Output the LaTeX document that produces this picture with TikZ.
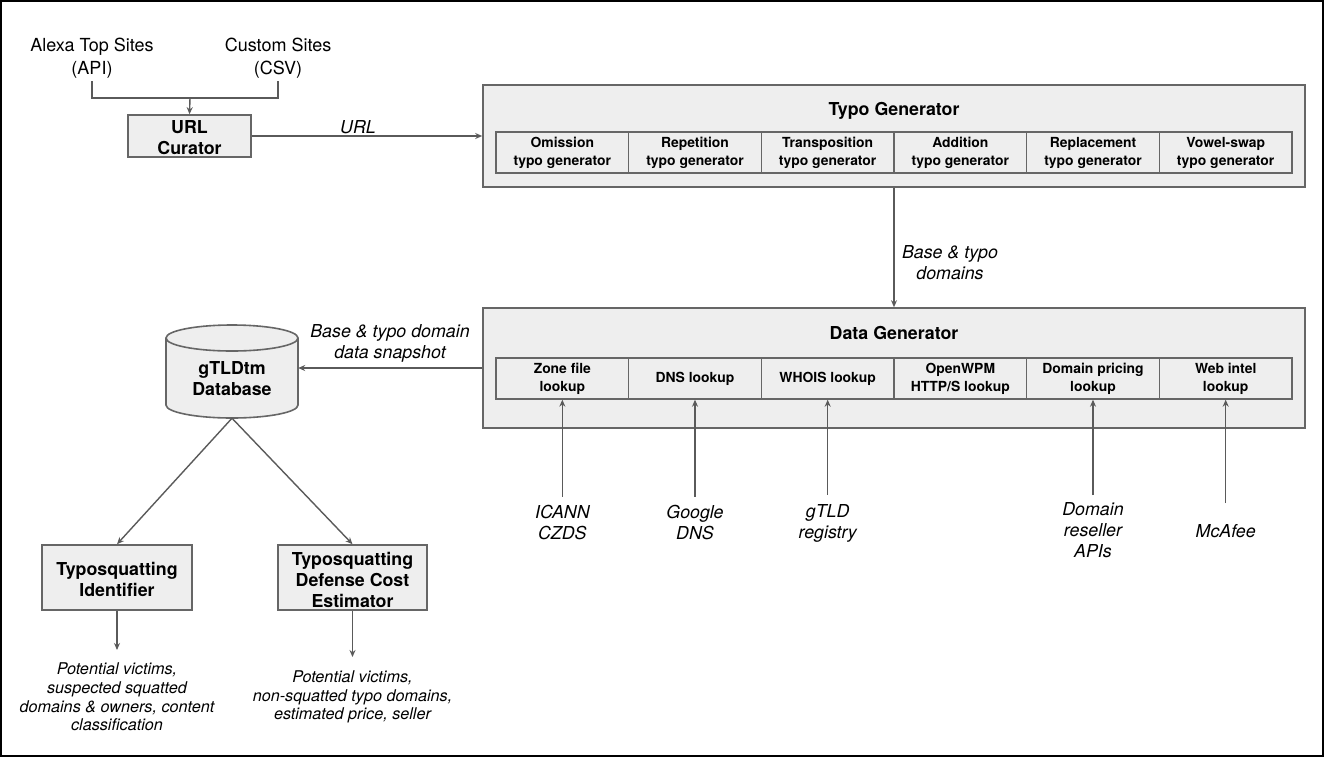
\documentclass[tikz,border=0pt]{standalone}
\usepackage{fontspec}
\setmainfont{TeX Gyre Heros}
\usetikzlibrary{arrows.meta}
\definecolor{boxfill}{HTML}{EEEEEE}
\definecolor{boxline}{HTML}{666666}
\definecolor{arrline}{HTML}{5A5A5A}
\begin{document}
\begin{tikzpicture}[x=1pt,y=-1pt,
  box/.style={draw=boxline, fill=boxfill, line width=1.6pt, inner sep=0pt, align=center,
              font=\fontsize{17.8}{21}\selectfont\bfseries},
  title/.style={inner sep=0pt, align=center, font=\fontsize{17.8}{21}\selectfont\bfseries},
  cell/.style={draw=boxline, fill=boxfill, line width=1.4pt, minimum width=132.67pt,
               minimum height=41pt, inner sep=0pt, align=center,
               font=\fontsize{13.9}{18}\selectfont\bfseries},
  src/.style={inner sep=3pt, align=center, font=\fontsize{18}{23}\selectfont},
  lbl/.style={inner sep=0pt, align=center, font=\fontsize{17.8}{21}\selectfont\itshape},
  inp/.style={inner sep=0pt, align=center, font=\fontsize{17.8}{21}\selectfont\itshape},
  outp/.style={inner sep=0pt, align=center, font=\fontsize{16.2}{18.6}\selectfont\itshape},
  arr/.style={draw=arrline, line width=1.4pt, -{Stealth[length=7pt,width=6pt]}},
  ln/.style={draw=arrline, line width=1.4pt},
]
\useasboundingbox (0,0) rectangle (1329,758);
\draw[black, line width=2pt] (1,1) rectangle (1323,756);

% sources
\node[src] (alexa) at (92,58) {Alexa Top Sites\\(API)};
\node[src] (custom) at (278,58) {Custom Sites\\(CSV)};
\coordinate (j) at (190,98);

% URL curator
\node[box, minimum width=123pt, minimum height=42pt] (url) at (189.5,136) {};
\node[title] (urlt) at (189.5,137.5) {URL\\Curator};
\draw[ln] (alexa.south) -- (alexa.south |- j) -- (custom.south |- j) -- (custom.south);
\draw[arr] (j) -- (url.north);

% Typo generator
\node[box, minimum width=822pt, minimum height=102pt] (typo) at (894,136) {};
\node[title] (typot) at (894,110.5) {Typo Generator};
\node[cell] (omi) at (562.33,152.5) {Omission\\typo generator};
\node[cell] (rep) at (695.00,152.5) {Repetition\\typo generator};
\node[cell] (tra) at (827.67,152.5) {Transposition\\typo generator};
\node[cell] (add) at (960.33,152.5) {Addition\\typo generator};
\node[cell] (rpl) at (1093.00,152.5) {Replacement\\typo generator};
\node[cell] (vow) at (1225.67,152.5) {Vowel-swap\\typo generator};

\draw[arr] (url.east) -- (typo.west);
\node[lbl] (urll) at (358,127) {URL};

% Data generator
\node[box, minimum width=822pt, minimum height=120pt] (data) at (894,368) {};
\node[title] (datat) at (894,333) {Data Generator};
\node[cell] (zone) at (562.33,378.5) {Zone file\\lookup};
\node[cell] (dns) at (695.00,378.5) {DNS lookup};
\node[cell] (whois) at (827.67,378.5) {WHOIS lookup};
\node[cell] (owpm) at (960.33,378.5) {OpenWPM\\HTTP/S lookup};
\node[cell] (price) at (1093.00,378.5) {Domain pricing\\lookup};
\node[cell] (intel) at (1225.67,378.5) {Web intel\\lookup};

\draw[arr] (typo.south) -- (data.north);
\node[lbl] (bt) at (950,263) {Base \& typo\\domains};

% database
\fill[boxfill] (166,338) -- (166,405) arc[start angle=180, end angle=360, x radius=66pt, y radius=13pt]
  -- (298,338) arc[start angle=0, end angle=180, x radius=66pt, y radius=13pt] -- cycle;
\draw[boxline, line width=1.6pt] (166,338) -- (166,405) arc[start angle=180, end angle=360, x radius=66pt, y radius=13pt]
  -- (298,338) arc[start angle=0, end angle=180, x radius=66pt, y radius=13pt] -- cycle;
\draw[boxline, line width=1.6pt] (166,338) arc[start angle=180, end angle=360, x radius=66pt, y radius=13pt];
\node[minimum width=132pt, minimum height=93pt, inner sep=0pt] (db) at (232,371.5) {};
\node[title] (dbt) at (232,379) {gTLDtm\\Database};

\draw[arr] (data.west) -- (data.west -| db.east);
\node[lbl] (snap) at (390,343.5) {Base \& typo domain\\data snapshot};

% consumers
\node[box, minimum width=150pt, minimum height=65pt] (ident) at (117,577.5) {};
\node[title] (identt) at (117,579.5) {Typosquatting\\Identifier};
\node[box, minimum width=149pt, minimum height=65pt] (est) at (352.5,577.5) {};
\node[title] (estt) at (352.5,579.5) {Typosquatting\\Defense Cost\\Estimator};
\draw[arr] (db.south) -- (ident.north);
\draw[arr] (db.south) -- (est.north);

\coordinate (o1e) at (117,650);
\coordinate (o2e) at (352.5,657);
\draw[arr] (ident.south) -- (o1e);
\draw[arr] (est.south) -- (o2e);
\node[outp] (out1) at (117,697) {Potential victims,\\suspected squatted\\domains \& owners, content\\classification};
\node[outp] (out2) at (352.5,697) {Potential victims,\\non-squatted typo domains,\\estimated price, seller};

% inputs
\node[inp] (icann) at (562.33,523) {ICANN\\CZDS};
\node[inp] (google) at (695.00,523) {Google\\DNS};
\node[inp] (gtld) at (827.67,523) {gTLD\\registry};
\node[inp] (resel) at (1093.00,530) {Domain\\reseller\\APIs};
\node[inp] (mcafee) at (1225.67,531) {McAfee};
\draw[arr, shorten <=9pt] (icann.north) -- (zone.south);
\draw[arr, shorten <=9pt] (google.north) -- (dns.south);
\draw[arr, shorten <=9pt] (gtld.north) -- (whois.south);
\draw[arr, shorten <=7pt] (resel.north) -- (price.south);
\draw[arr, shorten <=21pt] (mcafee.north) -- (intel.south);
\end{tikzpicture}
\end{document}
